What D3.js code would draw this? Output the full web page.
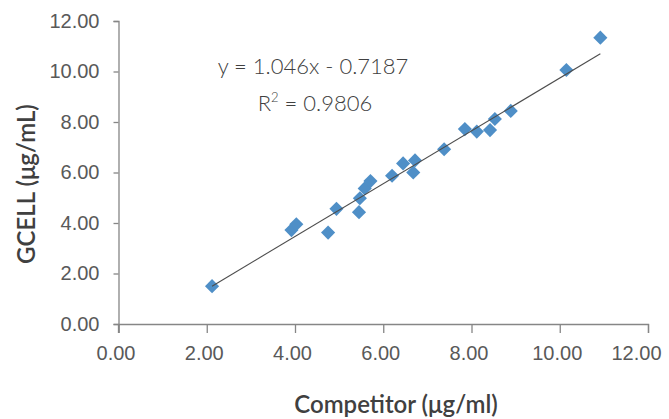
<!DOCTYPE html>
<html>
<head>
<meta charset="utf-8">
<script src="https://cdn.jsdelivr.net/npm/d3@7"></script>
<style>
  body { margin: 0; background: #fff; }
  svg { display: block; font-family: Lato, 'Noto Sans', sans-serif; }
</style>
</head>
<body>
<div id="chart"></div>
<script>
'use strict';

// data
const competitor = [2.12, 3.92, 4.03, 4.75, 4.94, 5.45, 5.47, 5.58, 5.71, 6.2, 6.45, 6.68, 6.72, 7.38, 7.85, 8.12, 8.42, 8.53, 8.89, 10.15, 10.92];
const gcell = [1.5, 3.72, 3.95, 3.62, 4.56, 4.43, 4.98, 5.37, 5.66, 5.87, 6.36, 6.0, 6.48, 6.92, 7.72, 7.62, 7.68, 8.12, 8.44, 10.06, 11.34];
const xTicks = [0, 2, 4, 6, 8, 10, 12];
const yTicks = [0, 2, 4, 6, 8, 10, 12];
const slope = 1.046;
const intercept = -0.7187;
const rSquared = '0.9806';

const width = 669;
const height = 419;
const margin = { top: 21, right: 21, bottom: 95, left: 118.5 };

const points = competitor.map((c, i) => ({ x: c, y: gcell[i] }));

const x = d3.scaleLinear().domain([0, 12]).range([margin.left, width - margin.right]);
const y = d3.scaleLinear().domain([0, 12]).range([height - margin.bottom, margin.top]);

const svg = d3.select('#chart').append('svg').attr('width', width).attr('height', height);

const axisColor = '#868686';
const labelColor = '#595959';

// x axis
svg
  .append('g')
  .attr('transform', `translate(0,${y(0)})`)
  .call(d3.axisBottom(x).tickValues(xTicks).tickFormat(d3.format('.2f')).tickSizeOuter(0).tickSize(9).tickPadding(13))
  .call((g) => g.select('.domain').attr('stroke', axisColor).attr('stroke-width', 1.3))
  .call((g) => g.selectAll('.tick line').attr('stroke', axisColor).attr('stroke-width', 1.3))
  .call((g) =>
    g
      .selectAll('.tick text')
      .attr('fill', labelColor)
      .attr('font-size', 20)
      .attr('font-weight', 300)
      .attr('font-family', null)
      .attr('dx', (d, i) => (i === xTicks.length - 1 ? -12 : -3))
  );

// y axis
svg
  .append('g')
  .attr('transform', `translate(${x(0)},0)`)
  .call(d3.axisLeft(y).tickValues(yTicks).tickFormat(d3.format('.2f')).tickSizeOuter(0).tickSize(5).tickPadding(14))
  .call((g) => g.select('.domain').attr('stroke', axisColor).attr('stroke-width', 1.3))
  .call((g) => g.selectAll('.tick line').attr('stroke', axisColor).attr('stroke-width', 1.3))
  .call((g) =>
    g.selectAll('.tick text').attr('fill', labelColor).attr('font-size', 20).attr('font-weight', 300).attr('font-family', null)
  );

// y axis continues below the x axis, like the x ticks
svg
  .append('line')
  .attr('x1', x(0))
  .attr('x2', x(0))
  .attr('y1', y(0))
  .attr('y2', y(0) + 9)
  .attr('stroke', axisColor)
  .attr('stroke-width', 1.3);

// diamonds
const diamond = d3.symbol().type(d3.symbolSquare).size(100);
svg
  .append('g')
  .selectAll('path')
  .data(points)
  .join('path')
  .attr('d', diamond)
  .attr('transform', (d) => `translate(${x(d.x)},${y(d.y)}) rotate(45)`)
  .attr('fill', '#4f8fc7');

// trend line
const xMin = d3.min(competitor);
const xMax = d3.max(competitor);
const line = d3
  .line()
  .x((d) => x(d))
  .y((d) => y(slope * d + intercept));
svg.append('path').attr('d', line([xMin, xMax])).attr('fill', 'none').attr('stroke', '#4d4d4d').attr('stroke-width', 1.1);

// equation
svg
  .append('text')
  .attr('x', 313)
  .attr('y', 74)
  .attr('text-anchor', 'middle')
  .attr('font-size', 22)
  .attr('font-weight', 300)
  .attr('fill', '#404040')
  .text(`y = ${slope}x - ${Math.abs(intercept)}`);

const r2 = svg
  .append('text')
  .attr('x', 315)
  .attr('y', 111)
  .attr('text-anchor', 'middle')
  .attr('font-size', 22)
  .attr('font-weight', 300)
  .attr('fill', '#404040');
r2.append('tspan').text('R');
r2.append('tspan').attr('font-size', 13).attr('dy', -9).text('2');
r2.append('tspan').attr('dy', 9).text(` = ${rSquared}`);

// axis titles
svg
  .append('text')
  .attr('x', 396)
  .attr('y', 413)
  .attr('text-anchor', 'middle')
  .attr('font-size', 24)
  .attr('font-weight', 600)
  .attr('fill', '#404040')
  .text('Competitor (μg/ml)');

svg
  .append('text')
  .attr('transform', `translate(35,184) rotate(-90)`)
  .attr('text-anchor', 'middle')
  .attr('font-size', 24)
  .attr('font-weight', 600)
  .attr('fill', '#404040')
  .text('GCELL (μg/mL)');
</script>
</body>
</html>
